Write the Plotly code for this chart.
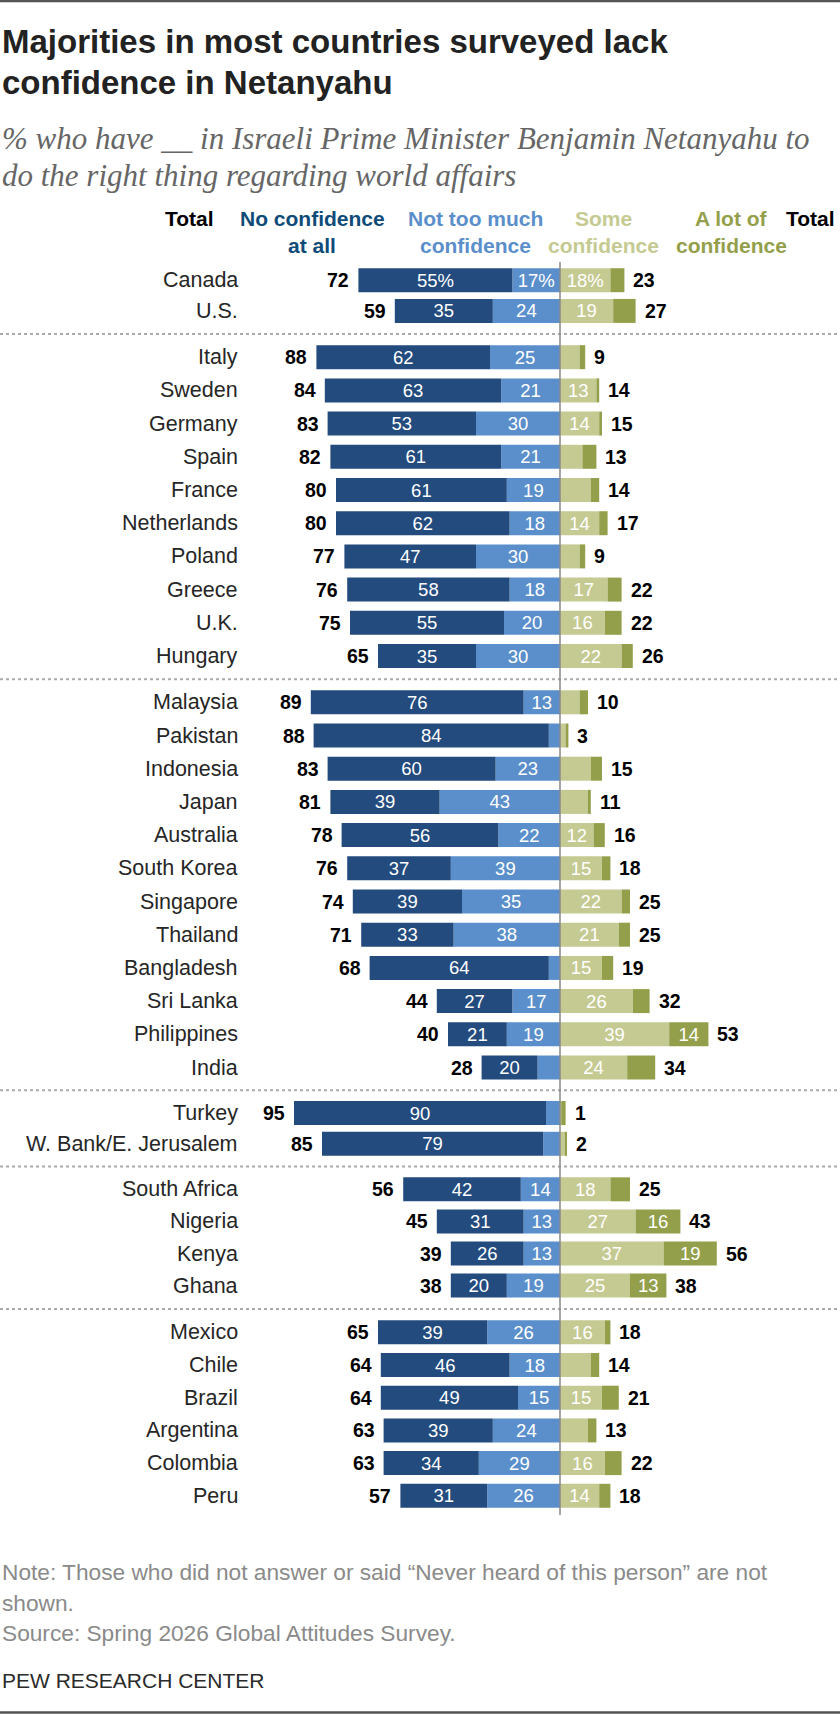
import plotly.graph_objects as go

# data (percent)
countries = [
    "Canada", "U.S.",
    "Italy", "Sweden", "Germany", "Spain", "France", "Netherlands", "Poland",
    "Greece", "U.K.", "Hungary",
    "Malaysia", "Pakistan", "Indonesia", "Japan", "Australia", "South Korea",
    "Singapore", "Thailand", "Bangladesh", "Sri Lanka", "Philippines", "India",
    "Turkey", "W. Bank/E. Jerusalem",
    "South Africa", "Nigeria", "Kenya", "Ghana",
    "Mexico", "Chile", "Brazil", "Argentina", "Colombia", "Peru",
]
group_sizes = [2, 10, 12, 2, 4, 6]

no_conf_at_all = [55, 35, 62, 63, 53, 61, 61, 62, 47, 58, 55, 35,
                  76, 84, 60, 39, 56, 37, 39, 33, 64, 27, 21, 20,
                  90, 79, 42, 31, 26, 20, 39, 46, 49, 39, 34, 31]
not_too_much = [17, 24, 25, 21, 30, 21, 19, 18, 30, 18, 20, 30,
                13, 4, 23, 43, 22, 39, 35, 38, 4, 17, 19, 8,
                5, 6, 14, 13, 13, 19, 26, 18, 15, 24, 29, 26]
some_conf = [18, 19, 7, 13, 14, 8, 11, 14, 7, 17, 16, 22,
             7, 2, 11, 10, 12, 15, 22, 21, 15, 26, 39, 24,
             0.5, 1.7, 18, 27, 37, 25, 16, 11, 15, 10, 16, 14]
lot_conf = [5, 8, 2, 1, 1, 5, 3, 3, 2, 5, 6, 4,
            3, 1, 4, 1, 4, 3, 3, 4, 4, 6, 14, 10,
            1.5, 0.8, 7, 16, 19, 13, 2, 3, 6, 3, 6, 4]
total_no = [72, 59, 88, 84, 83, 82, 80, 80, 77, 76, 75, 65,
            89, 88, 83, 81, 78, 76, 74, 71, 68, 44, 40, 28,
            95, 85, 56, 45, 39, 38, 65, 64, 64, 63, 63, 57]
total_yes = [23, 27, 9, 14, 15, 13, 14, 17, 9, 22, 22, 26,
             10, 3, 15, 11, 16, 18, 25, 25, 19, 32, 53, 34,
             1, 2, 25, 43, 56, 38, 18, 14, 21, 13, 22, 18]

DARK_BLUE = "#234b7e"
LIGHT_BLUE = "#5b8fcb"
PALE_GREEN = "#c5ca92"
OLIVE = "#949f4b"
HEAD_BLUE = "#0f4b78"

SANS = "Liberation Sans, Arial, sans-serif"
W, H = 840, 1714
CENTER = 560          # pixel position of the zero line
PX = 2.80             # pixels per percentage point

# layout of the row blocks (y axis is in pixels, top = 0)
group_start = [280.2, 357.2, 702.3, 1113, 1189.3, 1332.3]
group_pitch = [30.7, 33.2, 33.2, 30.8, 32.1, 32.7]

y_pos, seps = [], []
for gi, n in enumerate(group_sizes):
    if gi > 0:
        seps.append((y_pos[-1] + group_start[gi]) / 2)
    for k in range(n):
        y_pos.append(group_start[gi] + k * group_pitch[gi])


def seg_text(vals):
    out = []
    for i, v in enumerate(vals):
        if v < 12:
            out.append("")
        elif i == 0:
            out.append(f"{v:g}%")
        else:
            out.append(f"{v:g}")
    return out


fig = go.Figure()
for vals, color, sign in [
    (not_too_much, LIGHT_BLUE, -1),
    (no_conf_at_all, DARK_BLUE, -1),
    (some_conf, PALE_GREEN, 1),
    (lot_conf, OLIVE, 1),
]:
    fig.add_bar(
        y=y_pos, x=[sign * v for v in vals], orientation="h", width=24,
        marker=dict(color=color, line=dict(width=0)),
        text=seg_text(vals), textposition="inside", insidetextanchor="middle",
        constraintext="none", textangle=0,
        textfont=dict(color="white", size=18.5, family=SANS),
        hoverinfo="skip",
    )

ann = []
for i, c in enumerate(countries):
    ann.append(dict(x=240 / W, xref="paper", y=y_pos[i], yref="y", text=c,
                    xanchor="right", yanchor="middle", showarrow=False,
                    font=dict(size=21.5, color="#262626", family=SANS)))
    left_end = -(no_conf_at_all[i] + not_too_much[i])
    right_end = some_conf[i] + lot_conf[i]
    ann.append(dict(x=left_end, xref="x", y=y_pos[i], yref="y",
                    text=f"<b>{total_no[i]}</b>", xanchor="right", xshift=-7,
                    yanchor="middle", showarrow=False,
                    font=dict(size=19.5, color="#000", family=SANS)))
    ann.append(dict(x=right_end, xref="x", y=y_pos[i], yref="y",
                    text=f"<b>{total_yes[i]}</b>", xanchor="left", xshift=7,
                    yanchor="middle", showarrow=False,
                    font=dict(size=19.5, color="#000", family=SANS)))

# column headers
headers = [
    (189, "center", ["Total"], "#000"),
    (312, "center", ["No confidence", "at all"], HEAD_BLUE),
    (475, "center", ["Not too much", "confidence"], LIGHT_BLUE),
    (603, "center", ["Some", "confidence"], PALE_GREEN),
    (731, "center", ["A lot of", "confidence"], OLIVE),
    (837, "right", ["Total"], "#000"),
]
for xc, anchor, lines, col in headers:
    for li, t in enumerate(lines):
        ann.append(dict(x=xc / W, xref="paper", y=218 + 27 * li, yref="y",
                        text=f"<b>{t}</b>", xanchor=anchor, yanchor="middle",
                        showarrow=False, font=dict(size=21, color=col, family=SANS)))

# title, subtitle, notes
texts = [
    (41, "<b>Majorities in most countries surveyed lack</b>", 33, "#222", SANS),
    (82, "<b>confidence in Netanyahu</b>", 33, "#222", SANS),
    (138, "<i>% who have __ in Israeli Prime Minister Benjamin Netanyahu to</i>", 31, "#666", "Liberation Serif"),
    (175, "<i>do the right thing regarding world affairs</i>", 31, "#666", "Liberation Serif"),
    (1572, "Note: Those who did not answer or said “Never heard of this person” are not", 22.7, "#8a8a8a", SANS),
    (1603, "shown.", 22.7, "#8a8a8a", SANS),
    (1633, "Source: Spring 2026 Global Attitudes Survey.", 22.7, "#8a8a8a", SANS),
    (1680, "PEW RESEARCH CENTER", 21, "#2b2b2b", SANS),
]
for yy, t, sz, col, fam in texts:
    ann.append(dict(x=0, xref="paper", y=yy, yref="y", text=t, xanchor="left",
                    yanchor="middle", showarrow=False,
                    font=dict(size=sz, color=col, family=fam)))

shapes = [dict(type="line", xref="paper", x0=0, x1=1, yref="y", y0=s, y1=s,
               line=dict(color="#aaaaaa", width=2, dash="dot")) for s in seps]
shapes.append(dict(type="line", xref="x", x0=0, x1=0, yref="y", y0=262, y1=1515,
                   line=dict(color="#888888", width=1.5), layer="above"))
shapes.append(dict(type="line", xref="paper", x0=0, x1=1, yref="y", y0=1, y1=1,
                   line=dict(color="#555555", width=2.5)))
shapes.append(dict(type="line", xref="paper", x0=0, x1=1, yref="y", y0=1712.5, y1=1712.5,
                   line=dict(color="#555555", width=2.5)))

fig.update_layout(
    width=W, height=H, barmode="relative", showlegend=False,
    margin=dict(l=0, r=0, t=0, b=0),
    paper_bgcolor="white", plot_bgcolor="white",
    xaxis=dict(range=[-CENTER / PX, (W - CENTER) / PX], visible=False, fixedrange=True),
    yaxis=dict(range=[H, 0], visible=False, fixedrange=True),
    annotations=ann, shapes=shapes,
)

# drop the browser's default 8px body margin so the figure sits at the page corner
fig.write_html("out.html", config={"displayModeBar": False},
               post_script="document.body.style.margin='0px';")
